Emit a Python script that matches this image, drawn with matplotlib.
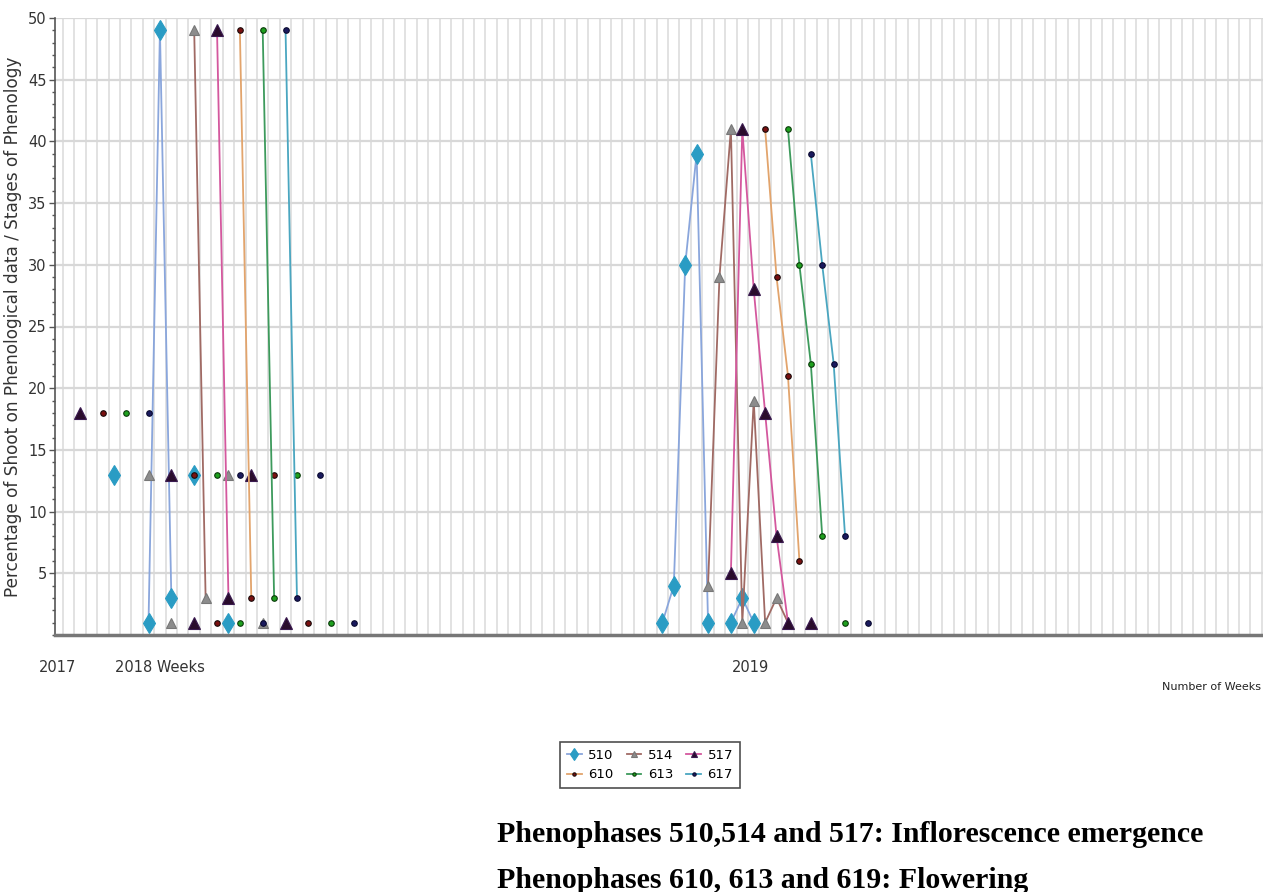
import numpy as np
import pandas as pd
import matplotlib
matplotlib.use("Agg")
import matplotlib.pyplot as plt
from matplotlib.ticker import MultipleLocator

# week index (0 = first 2017 record) and value for each phenophase
wk_510 = [3, 6, 7, 8, 10, 13, 51, 52, 53, 54, 55, 57, 58, 59]
val_510 = [13, 1, 49, 3, 13, 1, 1, 4, 30, 39, 1, 1, 3, 1]

wk_514 = [6, 8, 10, 11, 13, 16, 55, 56, 57, 58, 59, 60, 61, 62]
val_514 = [13, 1, 49, 3, 13, 1, 4, 29, 41, 1, 19, 1, 3, 1]

wk_517 = [0, 8, 10, 12, 13, 15, 18, 57, 58, 59, 60, 61, 62, 64]
val_517 = [18, 13, 1, 49, 3, 13, 1, 5, 41, 28, 18, 8, 1, 1]

wk_610 = [2, 10, 12, 14, 15, 17, 20, 60, 61, 62, 63]
val_610 = [18, 13, 1, 49, 3, 13, 1, 41, 29, 21, 6]

wk_613 = [4, 12, 14, 16, 17, 19, 22, 62, 63, 64, 65, 67]
val_613 = [18, 13, 1, 49, 3, 13, 1, 41, 30, 22, 8, 1]

wk_617 = [6, 14, 16, 18, 19, 21, 24, 64, 65, 66, 67, 69]
val_617 = [18, 13, 1, 49, 3, 13, 1, 39, 30, 22, 8, 1]

year_ticks = [-2, 7, 58.7]
year_labels = ["2017", "2018 Weeks", "2019"]

narrow = ["Liberation Sans Narrow", "DejaVu Sans"]

fig = plt.figure(figsize=(12.63, 8.92), dpi=100)
ax = fig.add_axes([55/1263, (892-635)/892, (1263-55)/1263, (635-18)/892])

# series style: (label, weeks, values, line colour, marker, marker face, marker edge, size)
series = [
    ("510", wk_510, val_510, "#8aa6dc", "d", "#2a9cc4", "#2a9cc4", 10.5),
    ("514", wk_514, val_514, "#a06a64", "^", "#8c8c8c", "#777777", 7),
    ("517", wk_517, val_517, "#d4589e", "^", "#2a0c2c", "#3a1a50", 8),
    ("610", wk_610, val_610, "#e2a46c", "o", "#7a1010", "#1a0a0a", 4),
    ("613", wk_613, val_613, "#3d9a5c", "o", "#1ea01e", "#0a3a0a", 4),
    ("617", wk_617, val_617, "#4aa6c0", "o", "#1a1a5e", "#0a0a30", 4),
]

all_weeks = np.arange(-2, 104)
handles = {}
for lab, wk, vals, lc, mk, mf, me, ms in series:
    # missing weeks break the line
    s = pd.Series(vals, index=wk).reindex(all_weeks)
    ln, = ax.plot(s.index, s.values, color=lc, lw=1.3, marker=mk, markerfacecolor=mf,
                  markeredgecolor=me, markersize=ms, markeredgewidth=0.8, label=lab, zorder=3)
    handles[lab] = ln

ax.set_xlim(-2.19, 103.6)
ax.set_ylim(0, 50)

# grid
ax.set_xticks(np.arange(-1.5, 104, 1), minor=True)
ax.xaxis.grid(True, which="minor", color="#e2e2e2", lw=1.4)
ax.yaxis.set_major_locator(MultipleLocator(5))
ax.yaxis.set_minor_locator(MultipleLocator(1))
ax.yaxis.grid(True, which="major", color="#d8d8d8", lw=1.6)
ax.set_axisbelow(True)

ax.set_yticks(np.arange(5, 51, 5))
ax.set_yticklabels([str(v) for v in range(5, 51, 5)], family=narrow, fontsize=10.5, color="#333333")
ax.tick_params(axis="y", which="major", length=4, width=1, color="#555555", pad=2)
ax.tick_params(axis="y", which="minor", length=2, width=1, color="#555555")

ax.set_xticks(year_ticks)
ax.set_xticklabels(year_labels, family=narrow, fontsize=10.5, color="#333333")
ax.tick_params(axis="x", which="major", length=0, pad=18)
ax.tick_params(axis="x", which="minor", length=0)

for sp in ["top", "right"]:
    ax.spines[sp].set_visible(False)
ax.spines["left"].set_color("#555555")
ax.spines["left"].set_linewidth(1.2)
ax.spines["bottom"].set_color("#777777")
ax.spines["bottom"].set_linewidth(2.5)

ax.set_ylabel("Percentage of Shoot on Phenological data / Stages of Phenology",
              fontsize=12.2, color="#333333", labelpad=4)

fig.text(1261/1263, 1 - 687/892, "Number of Weeks", family=narrow, fontsize=8,
         color="#222222", ha="right", va="center")

# legend filled row by row: 510 514 517 / 610 613 617
order = ["510", "610", "514", "613", "517", "617"]
leg = fig.legend([handles[k] for k in order], order, loc="center",
                 bbox_to_anchor=(650/1263, 1 - 765/892), ncol=3,
                 prop={"family": narrow, "size": 9.5}, frameon=True, fancybox=False,
                 edgecolor="#222222", handlelength=1.1, markerscale=0.6,
                 columnspacing=1.0, handletextpad=0.5, borderpad=0.5, labelspacing=0.5)
leg.get_frame().set_linewidth(1.2)

fig.text(497/1263, 1 - 834/892, "Phenophases 510,514 and 517: Inflorescence emergence",
         family="Liberation Serif", fontweight="bold", fontsize=21.5, ha="left", va="center")
fig.text(497/1263, 1 - 881/892, "Phenophases 610, 613 and 619: Flowering",
         family="Liberation Serif", fontweight="bold", fontsize=21.5, ha="left", va="center")

fig.savefig("out.png", dpi=100)
